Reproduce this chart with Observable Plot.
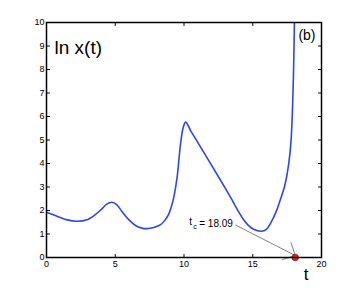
<!DOCTYPE html>
<html>
<head>
<meta charset="utf-8">
<script src="https://cdn.jsdelivr.net/npm/d3@7"></script>
<script src="https://cdn.jsdelivr.net/npm/@observablehq/plot@0.6"></script>
<style>
  html, body { margin: 0; padding: 0; background: #fff; }
  #chart { width: 354px; height: 290px; }
</style>
</head>
<body>
<div id="chart"></div>
<script>
const tValues = [0, 0.5, 1.0, 1.5, 2.2, 3.0, 3.5, 4.0, 4.4, 4.75, 5.1, 5.5, 6.0, 6.5, 7.0, 7.32, 7.8, 8.3, 8.6, 8.9, 9.1, 9.26, 9.5, 9.75, 9.95, 10.12, 10.5, 11.0, 12.0, 13.0, 13.4, 13.7, 14.0, 14.35, 14.7, 15.1, 15.6, 16.0, 16.3, 16.7, 17.0, 17.3, 17.5, 17.7, 17.8, 17.87, 17.94, 17.99, 18.03];
const lnX = [1.93, 1.82, 1.70, 1.60, 1.54, 1.62, 1.80, 2.05, 2.28, 2.35, 2.25, 1.95, 1.60, 1.35, 1.24, 1.23, 1.28, 1.40, 1.58, 1.86, 2.20, 2.57, 3.42, 4.84, 5.55, 5.76, 5.38, 4.90, 3.93, 2.95, 2.55, 2.23, 1.92, 1.60, 1.36, 1.19, 1.12, 1.20, 1.46, 1.95, 2.45, 3.00, 3.55, 4.40, 5.10, 6.00, 7.30, 8.60, 10.0];
const xTicks = [0, 5, 10, 15, 20];
const yTicks = [0, 1, 2, 3, 4, 5, 6, 7, 8, 9, 10];
const tc = 18.09;
const tcLabel = "18.09";

const data = tValues.map((t, i) => ({t, v: lnX[i]}));

const tickShape = {draw(context, l) { context.moveTo(0, 0); context.lineTo(0, -l); }};
const font = "Liberation Sans, Arial, sans-serif";

const chart = Plot.plot({
  width: 354,
  height: 290,
  marginLeft: 46,
  marginRight: 33,
  marginTop: 22,
  marginBottom: 33,
  style: {fontFamily: font, background: "#fff", color: "#000"},
  x: {domain: [0, 20]},
  y: {domain: [0, 10]},
  marks: [
    Plot.axisX({ticks: xTicks, tickSize: 0, tickPadding: 3, fontSize: 9, label: null, tickFormat: d => String(d)}),
    Plot.axisY({ticks: yTicks, tickSize: 0, tickPadding: 2, fontSize: 9, label: null, tickFormat: d => String(d)}),
    Plot.vector(xTicks, {x: d => d, y: () => 0, length: 3, rotate: 0, anchor: "start", shape: tickShape, stroke: "#000", strokeWidth: 1}),
    Plot.vector(xTicks, {x: d => d, y: () => 10, length: 3, rotate: 180, anchor: "start", shape: tickShape, stroke: "#000", strokeWidth: 1}),
    Plot.vector(yTicks, {x: () => 0, y: d => d, length: 3, rotate: 90, anchor: "start", shape: tickShape, stroke: "#000", strokeWidth: 1}),
    Plot.vector(yTicks, {x: () => 20, y: d => d, length: 3, rotate: 270, anchor: "start", shape: tickShape, stroke: "#000", strokeWidth: 1}),
    Plot.line(data, {x: "t", y: "v", stroke: "#2f45f2", strokeWidth: 1.6, curve: "catmull-rom", clip: true}),
    Plot.vector([tc], {x: d => d, y: () => 0, length: 67, rotate: 117, anchor: "end", stroke: "#444", strokeWidth: 0.6, r: 2.5, dy: -2}),
    Plot.dot([tc], {x: d => d, y: () => 0, r: 3.2, fill: "#e8201a", stroke: "#8a1010", strokeWidth: 0.8}),
    Plot.text(["t"], {x: () => tc, y: () => 0, dx: -106, dy: -36, textAnchor: "start", fontSize: 10, fill: "#000"}),
    Plot.text(["c"], {x: () => tc, y: () => 0, dx: -102, dy: -31, textAnchor: "start", fontSize: 7, fill: "#000"}),
    Plot.text(["= " + tcLabel], {x: () => tc, y: () => 0, dx: -96, dy: -34, textAnchor: "start", fontSize: 10, fill: "#000"}),
    Plot.text(["ln x(t)"], {frameAnchor: "top-left", dx: 8, dy: 18, textAnchor: "start", fontSize: 19, fill: "#000"}),
    Plot.text(["(b)"], {frameAnchor: "top-right", dx: -6, dy: 8, textAnchor: "end", fontSize: 14, fill: "#000"}),
    Plot.text(["t"], {frameAnchor: "bottom-right", dx: -13, dy: 22, fontSize: 17, fill: "#000"}),
    Plot.frame({stroke: "#000", strokeWidth: 1.5})
  ]
});
document.getElementById("chart").appendChild(chart);
</script>
</body>
</html>
